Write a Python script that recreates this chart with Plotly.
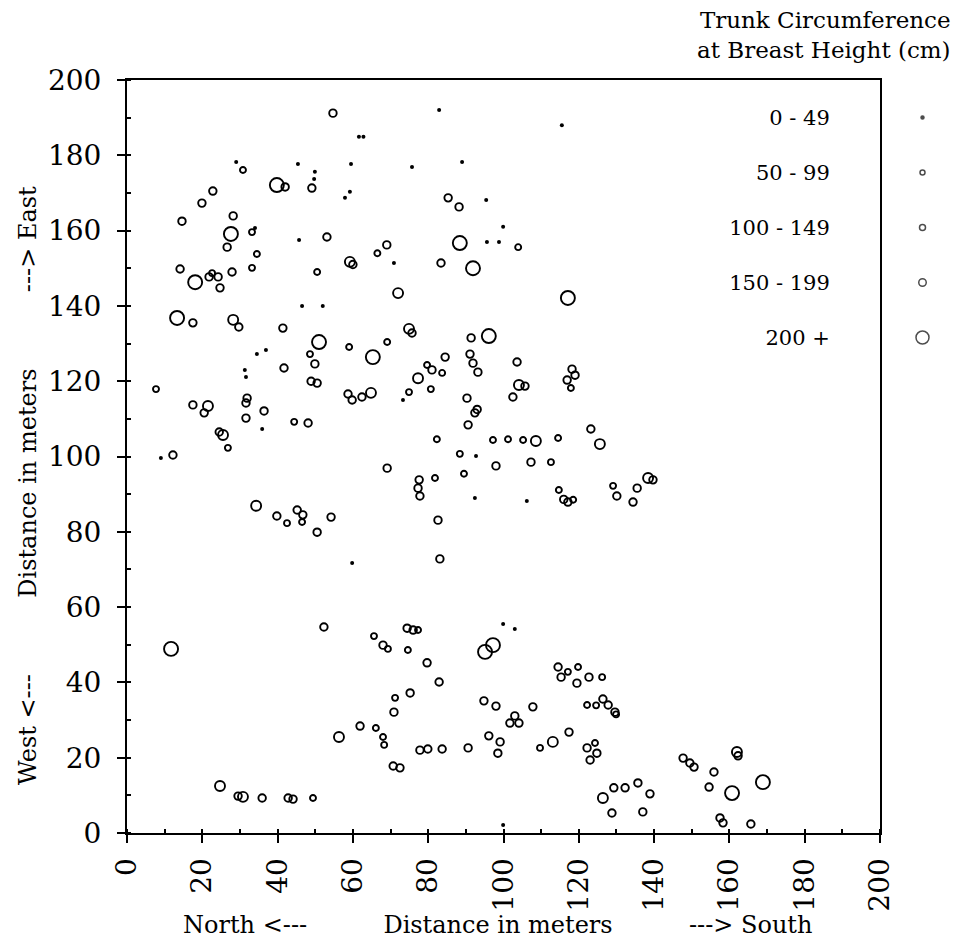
import plotly.graph_objects as go

# Size classes (trunk circumference at breast height, cm)
size_labels = ["0 - 49", "50 - 99", "100 - 149", "150 - 199", "200 +"]

# Tree positions (north-south distance m, west-east distance m), per size class
trees_0_49 = [
    (61.6, 184.9), (62.8, 184.9), (29.0, 178.2), (45.4, 177.7), (49.9, 175.6), (49.7, 173.7),
    (59.5, 177.7), (59.2, 170.3), (57.9, 168.7), (34.0, 160.7), (45.7, 157.5), (70.9, 151.4),
    (46.5, 140.0), (52.0, 140.0), (82.9, 192.0), (115.5, 188.0), (75.7, 176.9), (89.0, 178.2),
    (95.4, 168.1), (99.9, 161.0), (95.6, 157.0), (98.8, 157.0), (34.5, 127.2), (36.9, 128.3),
    (31.3, 123.0), (31.6, 121.1), (35.9, 107.3), (9.0, 99.6), (73.3, 115.0), (92.7, 100.1),
    (92.4, 89.0), (106.2, 88.2), (59.8, 71.7), (99.9, 55.5), (103.0, 54.2), (99.9, 2.1),
]
trees_50_99 = [
    (30.8, 176.1), (33.2, 159.6), (34.5, 153.8), (33.2, 150.1), (66.5, 154.0), (50.5, 149.0),
    (22.6, 148.7), (103.9, 155.6), (59.0, 129.1), (48.6, 127.2), (7.7, 117.9), (44.4, 109.2),
    (26.8, 102.3), (42.5, 82.3), (46.5, 82.6), (69.1, 130.4), (79.7, 124.3), (83.7, 122.2),
    (74.9, 117.1), (80.7, 117.9), (117.9, 118.2), (82.3, 104.6), (97.2, 104.4), (101.2, 104.6),
    (105.2, 104.4), (114.5, 104.9), (88.4, 100.7), (112.6, 98.5), (81.8, 94.3), (89.5, 95.4),
    (114.7, 91.1), (118.5, 88.5), (129.1, 92.2), (65.6, 52.3), (69.3, 48.9), (77.3, 53.9),
    (74.6, 48.6), (117.1, 42.8), (119.8, 44.1), (126.2, 41.4), (71.2, 35.9), (122.2, 34.0),
    (124.6, 33.9), (129.9, 31.5), (66.1, 27.9), (68.0, 25.5), (68.3, 23.4), (109.7, 22.6),
    (124.3, 23.9), (49.4, 9.3),
]
trees_100_149 = [
    (54.7, 191.2), (42.0, 171.6), (49.1, 171.3), (22.8, 170.5), (19.9, 167.3), (28.2, 163.9),
    (14.6, 162.5), (26.6, 155.6), (53.1, 158.3), (60.0, 151.0), (14.1, 149.8), (21.8, 147.7),
    (24.2, 147.7), (24.7, 144.8), (27.9, 149.0), (85.3, 168.7), (88.2, 166.3), (69.0, 156.2),
    (83.4, 151.4), (17.5, 135.5), (29.7, 134.4), (41.4, 134.1), (49.9, 124.6), (41.7, 123.5),
    (48.9, 120.0), (50.5, 119.5), (17.5, 113.7), (20.5, 111.6), (31.9, 115.5), (31.6, 114.2),
    (36.4, 112.1), (31.6, 110.2), (48.1, 108.9), (58.7, 116.6), (59.8, 115.0), (62.4, 115.8),
    (24.5, 106.5), (12.2, 100.4), (39.8, 84.2), (45.2, 85.8), (46.7, 84.5), (54.2, 83.9),
    (50.5, 79.9), (75.7, 132.8), (91.4, 131.5), (84.5, 126.4), (91.1, 127.2), (91.9, 124.8),
    (93.2, 122.4), (81.0, 123.0), (103.6, 125.1), (105.7, 118.7), (102.5, 115.8), (118.2, 123.2),
    (119.0, 121.6), (116.9, 120.3), (90.3, 115.5), (92.4, 111.6), (93.0, 112.5), (90.6, 108.4),
    (123.2, 107.3), (98.0, 97.5), (107.3, 98.5), (69.1, 96.9), (77.6, 93.8), (77.3, 91.6),
    (77.8, 89.5), (117.1, 87.9), (116.0, 88.6), (130.1, 89.5), (82.6, 83.1), (139.7, 93.8),
    (135.5, 91.6), (134.4, 87.9), (83.1, 72.8), (52.3, 54.7), (61.9, 28.4), (29.5, 9.8),
    (35.9, 9.3), (42.8, 9.3), (44.1, 9.0), (68.0, 49.9), (74.4, 54.4), (76.0, 53.9),
    (79.7, 45.2), (82.9, 40.1), (114.5, 44.1), (115.3, 41.4), (119.5, 39.8), (122.7, 41.4),
    (75.2, 37.2), (70.9, 32.1), (94.8, 35.1), (98.0, 33.7), (107.8, 33.5), (103.0, 31.1),
    (101.7, 29.2), (104.1, 29.2), (126.4, 35.6), (127.8, 34.0), (129.6, 32.1), (70.7, 17.8),
    (72.5, 17.3), (77.8, 22.0), (79.9, 22.3), (83.7, 22.3), (90.6, 22.6), (96.1, 25.8),
    (99.1, 24.2), (98.5, 21.2), (117.4, 26.8), (122.2, 22.6), (123.0, 19.4), (124.8, 21.2),
    (129.3, 12.0), (132.3, 12.0), (128.8, 5.3), (135.7, 13.3), (138.9, 10.4), (137.0, 5.6),
    (147.7, 19.9), (149.5, 18.6), (150.6, 17.5), (155.9, 16.2), (154.6, 12.2), (162.3, 20.5),
    (157.5, 4.0), (158.3, 2.7), (165.7, 2.4),
]
trees_150_199 = [
    (59.2, 151.7), (72.0, 143.4), (28.2, 136.3), (21.5, 113.4), (64.8, 116.9), (25.5, 105.7),
    (34.3, 86.9), (74.9, 133.9), (77.3, 120.8), (104.1, 119.0), (108.6, 104.1), (125.6, 103.3),
    (138.4, 94.3), (56.3, 25.5), (24.7, 12.5), (30.8, 9.6), (113.1, 24.2), (126.4, 9.3),
    (162.0, 21.5),
]
trees_200_plus = [
    (39.8, 172.1), (27.6, 159.1), (18.1, 146.3), (88.4, 156.7), (91.9, 150.0), (117.1, 142.1),
    (13.3, 136.8), (51.0, 130.4), (65.3, 126.4), (96.1, 132.0), (11.7, 48.9), (95.1, 48.1),
    (97.2, 49.9), (160.7, 10.6), (168.9, 13.5),
]

classes = [trees_0_49, trees_50_99, trees_100_149, trees_150_199, trees_200_plus]
marker_sizes = [4, 6, 7.5, 10, 14]
legend_sizes = [3, 5, 6, 7.5, 13]
symbols = ["circle", "circle-open", "circle-open", "circle-open", "circle-open"]

FONT = "DejaVu Serif"
W, H = 956, 951
ML, MR, MT, MB = 127, 10, 80, 118
plot_w = 753
paper_w = W - ML - MR
paper_h = H - MT - MB
x_dom_end = plot_w / paper_w

fig = go.Figure()
for label, pts, size, sym in zip(size_labels, classes, marker_sizes, symbols):
    xs = [p[0] for p in pts]
    ys = [p[1] for p in pts]
    fig.add_trace(go.Scatter(
        x=xs, y=ys, mode="markers", name=label, showlegend=False,
        marker=dict(symbol=sym, size=size, color="black",
                    line=dict(width=1.9 if sym != "circle" else 0, color="black")),
    ))

# Legend column: labels as axis tick labels, symbols to the right
fig.add_trace(go.Scatter(
    x=[0] * len(size_labels), y=list(range(len(size_labels))),
    xaxis="x2", yaxis="y2", mode="markers", showlegend=False, hoverinfo="skip",
    marker=dict(symbol=symbols, size=legend_sizes, color="black",
                line=dict(width=1.5, color="black")),
))

axis_common = dict(
    range=[0, 200], tick0=0, dtick=20, ticks="outside", ticklen=8, tickwidth=2,
    tickcolor="black", showline=True, linewidth=2, linecolor="black", mirror=True,
    showgrid=False, zeroline=False, automargin=False,
    tickfont=dict(family=FONT, size=28, color="black"),
    minor=dict(dtick=10, ticks="inside", ticklen=4, tickwidth=1.5, tickcolor="black"),
)

fig.update_layout(
    template="none",
    width=W, height=H,
    margin=dict(l=ML, r=MR, t=MT, b=MB, pad=0, autoexpand=False),
    paper_bgcolor="white", plot_bgcolor="white",
    font=dict(family=FONT, color="black"),
    xaxis=dict(domain=[0, x_dom_end], tickangle=-90, ticklabelstandoff=4, **axis_common),
    yaxis=dict(domain=[0, 1], ticklabelstandoff=10, **axis_common),
    xaxis2=dict(domain=[(905 - ML) / paper_w, (940 - ML) / paper_w], anchor="y2",
                range=[-1, 1], visible=False, fixedrange=True, automargin=False),
    yaxis2=dict(domain=[(833 - 365) / paper_h, (833 - 90) / paper_h], anchor="free",
                position=x_dom_end, side="left", range=[4.5, -0.5], automargin=False,
                tickvals=list(range(len(size_labels))), ticktext=size_labels,
                ticks="outside", ticklen=46, tickcolor="rgba(0,0,0,0)",
                showline=False, showgrid=False, zeroline=False,
                tickfont=dict(family=FONT, size=21, color="black")),
    showlegend=False,
)

nb = "\u00a0"
fig.add_annotation(
    text="Trunk Circumference<br>at Breast Height (cm)",
    xref="paper", yref="paper", x=(953 - ML) / paper_w, y=(833 - 5) / paper_h,
    xanchor="right", yanchor="top", align="right", showarrow=False,
    font=dict(family=FONT, size=23, color="black"),
)
fig.add_annotation(
    text="North <---" + nb * 10 + "Distance in meters" + nb * 10 + "---> South",
    xref="paper", yref="paper", x=(497 - ML) / paper_w, y=(833 - 925) / paper_h,
    xanchor="center", yanchor="middle", showarrow=False,
    font=dict(family=FONT, size=24, color="black"),
)
fig.add_annotation(
    text="West <---" + nb * 10 + "Distance in meters" + nb * 10 + "---> East",
    xref="paper", yref="paper", x=(28 - ML) / paper_w, y=(833 - 486) / paper_h,
    xanchor="center", yanchor="middle", textangle=-90, showarrow=False,
    font=dict(family=FONT, size=24, color="black"),
)

fig.write_html("out.html")
